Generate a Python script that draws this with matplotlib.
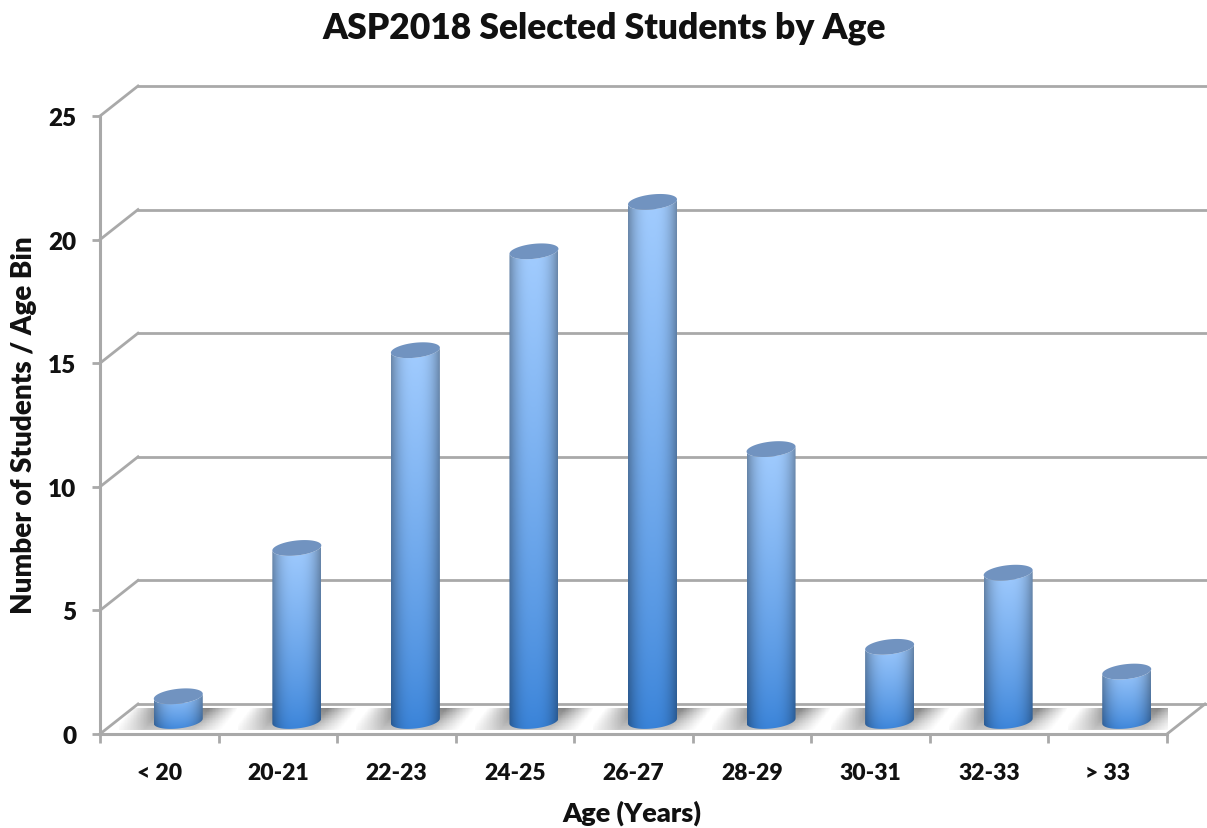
import numpy as np
import matplotlib
matplotlib.use("Agg")
import matplotlib.pyplot as plt
from matplotlib.patches import PathPatch
from matplotlib.path import Path

age_bins = ["< 20", "20-21", "22-23", "24-25", "26-27", "28-29", "30-31", "32-33", "> 33"]
students = [1, 7, 15, 19, 21, 11, 3, 6, 2]
y_ticks = [0, 5, 10, 15, 20, 25]

GRID = "#a9a9a9"
TXT = "#111111"
WEIGHT = "heavy"
plt.rcParams["font.family"] = ["Lato", "DejaVu Sans"]
plt.rcParams["font.weight"] = WEIGHT

W, H = 1207, 829
fig = plt.figure(figsize=(W / 100, H / 100), dpi=100, facecolor="white")
# front plane of the chart box
ax = fig.add_axes([100 / W, 1 - 735 / H, 1067 / W, 618 / H])
ax.set_xlim(0, len(age_bins))
ax.set_ylim(0, 25)
ax.patch.set_alpha(0)

px_x = len(age_bins) / 1067  # data units per pixel
px_y = 25 / 618
dx, dy = 38 * px_x, 30 * px_y  # depth of the box

# back wall and side lines
for t in y_ticks:
    ax.plot([0, dx], [t, t + dy], color=GRID, lw=2, clip_on=False, zorder=1)
    ax.plot([dx, len(age_bins) + 40 * px_x], [t + dy, t + dy], color=GRID, lw=2, clip_on=False, zorder=1)
ax.plot([len(age_bins), len(age_bins) + dx], [0, dy], color=GRID, lw=2, clip_on=False, zorder=1)

for side in ["top", "right"]:
    ax.spines[side].set_visible(False)
for side in ["left", "bottom"]:
    ax.spines[side].set_color(GRID)
    ax.spines[side].set_linewidth(2.2)

ax.set_yticks(y_ticks)
ax.set_yticklabels([str(t) for t in y_ticks], fontweight=WEIGHT)
ax.set_xticks(np.arange(len(age_bins) + 1))
ax.set_xticklabels([])
ax.set_xticks(np.arange(len(age_bins)) + 0.5, minor=True)
ax.set_xticklabels(age_bins, minor=True, fontsize=16.5, color=TXT, fontweight=WEIGHT)
ax.tick_params(axis="x", which="major", length=6.5, width=2, color=GRID)
ax.tick_params(axis="x", which="minor", length=0, pad=20)
ax.tick_params(axis="y", length=6, width=2, color=GRID, labelsize=17.5, labelcolor=TXT, pad=11)

fig.text(604 / W, 1 - 28 / H, "ASP2018 Selected Students by Age", ha="center", va="center",
         fontsize=25.5, color=TXT, fontweight=WEIGHT)
fig.text(632 / W, 1 - 813 / H, "Age (Years)", ha="center", va="center", fontsize=19.5,
         color=TXT, fontweight=WEIGHT)
fig.text(24 / W, 1 - 425 / H, "Number of Students / Age Bin", ha="center", va="center",
         rotation=90, fontsize=20, color=TXT, fontweight=WEIGHT)

half_w = 24.5 * px_x
ell_h = 7.5 * px_y
tilt = 2.5 * px_y
base_y = 13 * px_y
center_dx = 19 * px_x


def ellipse(cx, cy, t):
    return np.column_stack([cx + half_w * np.cos(t), cy + ell_h * np.sin(t) + tilt * np.cos(t)])


for i, val in enumerate(students):
    cx = i + 0.5 + center_dx

    # floor shadow, sheared with the floor and fading away from the bar
    sx0, sx1 = cx - 59 * px_x, cx + 59 * px_x
    sy0, sy1 = 4 * px_y, 26 * px_y
    xs = np.linspace(-59, 59, 200)
    vs = np.linspace(1, 0, 30)  # 1 at the back edge of the floor
    xx, vv = np.meshgrid(xs, vs)
    u = np.abs(xx - (vv - 0.5) * 17 + 1.5) / 54
    rgba = np.zeros((30, 200, 4))
    rgba[..., :3] = 0.5
    rgba[..., 3] = np.clip((1 - u) / 0.55, 0, 1) ** 1.1 * (0.45 + 0.55 * vv) * 0.95
    ax.imshow(rgba, extent=[sx0, sx1, sy0, sy1], origin="upper", aspect="auto", zorder=2,
              interpolation="nearest")

    # cylinder body: vertical blue ramp with darker edges
    top = val + base_y
    lo = base_y - ell_h - tilt
    hi = top + ell_h + tilt
    u = np.linspace(-1, 1, 80)
    v = np.linspace(0, 1, 120)[:, None, None]
    light = np.array([163, 205, 255]) / 255
    dark = np.array([56, 130, 216]) / 255
    ramp = dark + (light - dark) * v ** 0.8
    shade = (1 - 0.33 * np.abs(u) ** 2.6)[None, :, None]
    body = ramp * shade
    im = ax.imshow(body, extent=[cx - half_w, cx + half_w, lo, hi], origin="lower", aspect="auto",
                   zorder=3, interpolation="bilinear")
    low_arc = ellipse(cx, base_y, np.linspace(np.pi, 2 * np.pi, 40))
    top_arc = ellipse(cx, top, np.linspace(2 * np.pi, np.pi, 40))
    outline = np.vstack([low_arc, top_arc, low_arc[:1]])
    im.set_clip_path(PathPatch(Path(outline), transform=ax.transData))

    # flat cap on the cylinder
    cap = ellipse(cx, top, np.linspace(0, 2 * np.pi, 80))
    ax.fill(cap[:, 0], cap[:, 1], color="#7193c0", lw=0, zorder=4, clip_on=False)

ax.set_xlim(0, len(age_bins))
ax.set_ylim(0, 25)
fig.savefig("out.png", dpi=100)
